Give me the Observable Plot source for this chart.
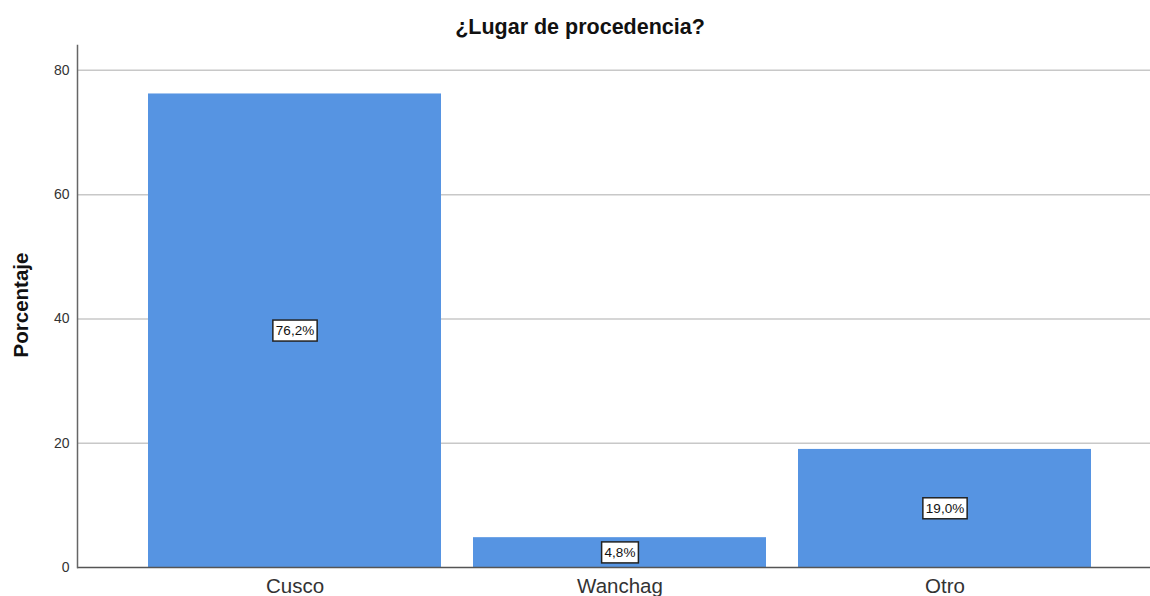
<!DOCTYPE html>
<html>
<head>
<meta charset="utf-8">
<script src="https://cdn.jsdelivr.net/npm/d3@7"></script>
<script src="https://cdn.jsdelivr.net/npm/@observablehq/plot@0.6"></script>
<style>
  body { margin: 0; background: #fff; font-family: "Liberation Sans", Arial, sans-serif; }
  #wrap { position: relative; width: 1150px; height: 596px; overflow: hidden; }
  #title { position: absolute; top: 15px; left: 580px; transform: translateX(-50%); font-weight: bold; font-size: 21.5px; color: #111; white-space: nowrap; }
  #ylab { position: absolute; left: 21px; top: 305px; transform: translate(-50%, -50%) rotate(-90deg); font-weight: bold; font-size: 20.5px; color: #111; white-space: nowrap; }
  svg { position: absolute; left: 0; top: 0; }
</style>
</head>
<body>
<div id="wrap">
  <div id="chart"></div>
  <div id="title">¿Lugar de procedencia?</div>
  <div id="ylab">Porcentaje</div>
</div>
<script>
const categories = ["Cusco", "Wanchag", "Otro"];
const values = [76.2, 4.8, 19.0];
const labels = ["76,2%", "4,8%", "19,0%"];
const yTicks = [0, 20, 40, 60, 80];

const data = categories.map((c, i) => ({cat: c, v: values[i], label: labels[i]}));

const chart = Plot.plot({
  width: 1150,
  height: 596,
  marginTop: 45,
  marginBottom: 29,
  marginLeft: 77,
  marginRight: 0,
  style: {fontFamily: "Liberation Sans, Arial, sans-serif", background: "#fff"},
  x: {domain: categories, range: [148, 1090.5], paddingInner: 0.1, paddingOuter: 0, label: null},
  y: {domain: [0, 84], label: null},
  marks: [
    Plot.ruleY(yTicks.filter(t => t > 0), {stroke: "#c8c8c8", strokeWidth: 1.5}),
    Plot.barY(data, {x: "cat", y: "v", fill: "#5694e2"}),
    Plot.ruleY([0], {stroke: "#555", strokeWidth: 1.5}),
    Plot.frame({anchor: "left", stroke: "#666", strokeWidth: 1.5}),
    Plot.axisY({ticks: yTicks, tickSize: 0, tickPadding: 8, fontSize: 14, fill: "#333", label: null}),
    Plot.axisX({tickSize: 0, tickPadding: 11, fontSize: 20.5, fill: "#333", label: null}),
    Plot.text(data, {x: "cat", y: d => d.v / 2, text: "label", fontSize: 13.5, fill: "#111", className: "barlabel"})
  ]
});
document.getElementById("chart").appendChild(chart);

// white boxes behind the labels
d3.select(chart).selectAll("g.barlabel text").each(function() {
  const b = this.getBBox();
  const ns = "http://www.w3.org/2000/svg";
  const r = document.createElementNS(ns, "rect");
  r.setAttribute("x", b.x - 3);
  r.setAttribute("y", b.y - 3);
  r.setAttribute("width", b.width + 6);
  r.setAttribute("height", b.height + 6);
  r.setAttribute("fill", "#fff");
  r.setAttribute("stroke", "#222");
  r.setAttribute("stroke-width", 1.5);
  const t = this.getAttribute("transform");
  if (t) r.setAttribute("transform", t);
  this.parentNode.insertBefore(r, this);
});
</script>
</body>
</html>
